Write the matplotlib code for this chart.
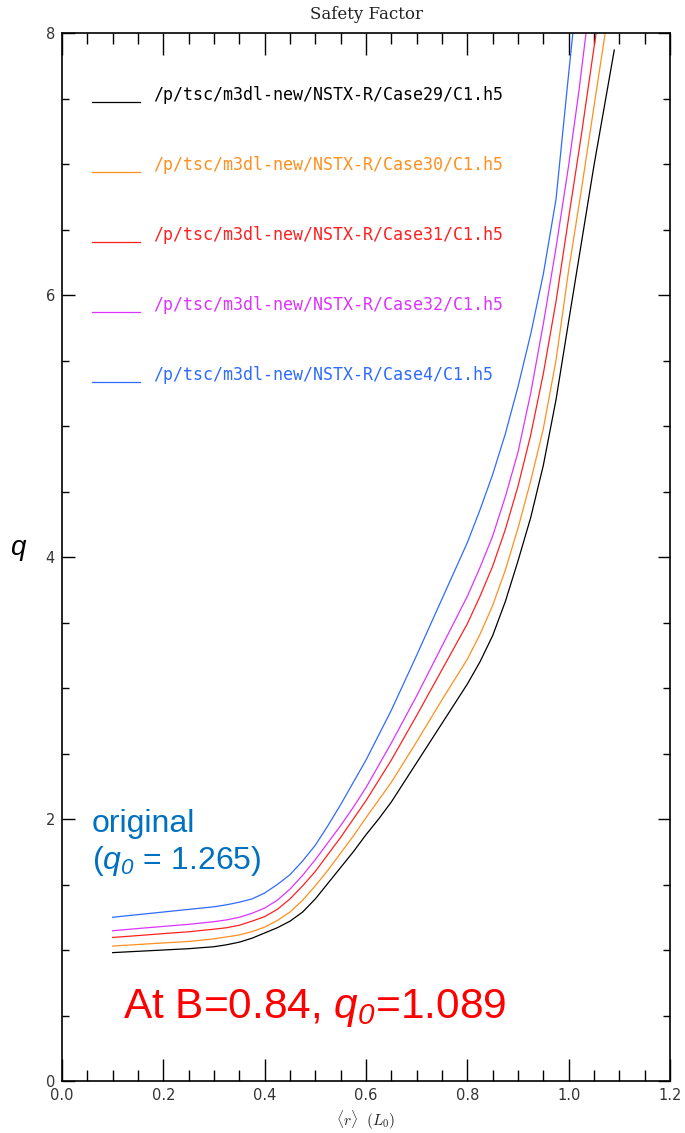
import matplotlib
matplotlib.use("Agg")
import matplotlib.pyplot as plt
from matplotlib.ticker import MultipleLocator

plt.rcParams['mathtext.fontset'] = 'custom'
plt.rcParams['mathtext.it'] = 'Liberation Sans:italic'
plt.rcParams['mathtext.rm'] = 'Liberation Sans'
plt.rcParams['mathtext.sf'] = 'Liberation Sans:italic'

# ---------------- data ----------------
labels = ["/p/tsc/m3dl-new/NSTX-R/Case29/C1.h5",
          "/p/tsc/m3dl-new/NSTX-R/Case30/C1.h5",
          "/p/tsc/m3dl-new/NSTX-R/Case31/C1.h5",
          "/p/tsc/m3dl-new/NSTX-R/Case32/C1.h5",
          "/p/tsc/m3dl-new/NSTX-R/Case4/C1.h5"]
colors = ["#000000", "#FF8F1F", "#FF2020", "#DD33FF", "#2F6BFF"]

r_case29 = [0.10, 0.15, 0.20, 0.25, 0.30, 0.325, 0.35, 0.375, 0.40, 0.425, 0.45,
            0.475, 0.50, 0.525, 0.55, 0.575, 0.60, 0.625, 0.65, 0.70, 0.75, 0.80,
            0.825, 0.85, 0.875, 0.90, 0.925, 0.95, 0.975, 1.00, 1.05, 1.09]
q_case29 = [0.98, 0.99, 1.00, 1.01, 1.025, 1.04, 1.06, 1.09, 1.13, 1.17, 1.22,
            1.29, 1.39, 1.51, 1.63, 1.75, 1.88, 2.00, 2.13, 2.43, 2.73, 3.03,
            3.20, 3.40, 3.66, 3.97, 4.30, 4.70, 5.20, 5.80, 6.99, 7.87]

r_case30 = [0.10, 0.15, 0.20, 0.25, 0.30, 0.325, 0.35, 0.375, 0.40, 0.425, 0.45,
            0.475, 0.50, 0.525, 0.55, 0.575, 0.60, 0.65, 0.70, 0.75, 0.80,
            0.825, 0.85, 0.875, 0.90, 0.925, 0.95, 0.975, 1.00, 1.025, 1.05, 1.08]
q_case30 = [1.03, 1.042, 1.054, 1.065, 1.085, 1.10, 1.115, 1.14, 1.175, 1.225, 1.29,
            1.38, 1.49, 1.61, 1.74, 1.87, 2.01, 2.28, 2.59, 2.91, 3.22,
            3.41, 3.63, 3.90, 4.22, 4.58, 4.98, 5.50, 6.19, 6.80, 7.44, 8.2]

r_case31 = [0.10, 0.15, 0.20, 0.25, 0.30, 0.325, 0.35, 0.375, 0.40, 0.425, 0.45,
            0.475, 0.50, 0.525, 0.55, 0.575, 0.60, 0.65, 0.70, 0.75, 0.80,
            0.825, 0.85, 0.875, 0.90, 0.925, 0.95, 0.975, 1.00, 1.025, 1.05, 1.06]
q_case31 = [1.096, 1.11, 1.125, 1.139, 1.159, 1.17, 1.189, 1.22, 1.255, 1.31, 1.39,
            1.49, 1.60, 1.73, 1.86, 2.00, 2.14, 2.45, 2.79, 3.14, 3.49,
            3.70, 3.93, 4.21, 4.54, 4.93, 5.40, 5.95, 6.59, 7.22, 7.89, 8.15]

r_case32 = [0.10, 0.15, 0.20, 0.25, 0.30, 0.325, 0.35, 0.375, 0.40, 0.425, 0.45,
            0.475, 0.50, 0.525, 0.55, 0.575, 0.60, 0.65, 0.70, 0.75, 0.80,
            0.825, 0.85, 0.875, 0.90, 0.925, 0.95, 0.975, 1.00, 1.02, 1.04]
q_case32 = [1.147, 1.164, 1.18, 1.196, 1.216, 1.23, 1.25, 1.28, 1.32, 1.38, 1.465,
            1.57, 1.69, 1.82, 1.95, 2.09, 2.24, 2.58, 2.94, 3.32, 3.70,
            3.92, 4.16, 4.46, 4.80, 5.25, 5.78, 6.36, 6.99, 7.55, 8.18]

r_case4 = [0.10, 0.15, 0.20, 0.25, 0.30, 0.325, 0.35, 0.375, 0.40, 0.425, 0.45,
           0.475, 0.50, 0.525, 0.55, 0.575, 0.60, 0.65, 0.70, 0.75, 0.80,
           0.825, 0.85, 0.875, 0.90, 0.925, 0.95, 0.975, 1.00, 1.015]
q_case4 = [1.25, 1.27, 1.29, 1.31, 1.33, 1.345, 1.365, 1.39, 1.435, 1.50, 1.575,
           1.68, 1.80, 1.95, 2.11, 2.28, 2.45, 2.83, 3.25, 3.68, 4.11,
           4.36, 4.63, 4.94, 5.30, 5.70, 6.16, 6.73, 7.69, 8.25]

series = [(r_case29, q_case29), (r_case30, q_case30), (r_case31, q_case31),
          (r_case32, q_case32), (r_case4, q_case4)]

xticks = [0.0, 0.2, 0.4, 0.6, 0.8, 1.0, 1.2]
xticklabels = ["0.0", "0.2", "0.4", "0.6", "0.8", "1.0", "1.2"]
yticks = [0, 2, 4, 6, 8]
yticklabels = ["0", "2", "4", "6", "8"]

# ---------------- figure ----------------
W, H = 685, 1133
fig = plt.figure(figsize=(W / 100, H / 100), dpi=100)
L, R, T, B = 62, 670, 33, 1081
ax = fig.add_axes([L / W, 1 - B / H, (R - L) / W, (B - T) / H])

for (r, q), c in zip(series, colors):
    ax.plot(r, q, color=c, lw=0.9, solid_joinstyle='round')

ax.set_xlim(0, 1.2)
ax.set_ylim(0, 8)

for s in ax.spines.values():
    s.set_linewidth(1.2)

ax.set_xticks(xticks)
ax.set_xticklabels(xticklabels)
ax.set_yticks(yticks)
ax.set_yticklabels(yticklabels)
ax.xaxis.set_minor_locator(MultipleLocator(0.05))
ax.yaxis.set_minor_locator(MultipleLocator(0.5))
ax.tick_params(axis='x', which='major', direction='in', length=15.8, width=1.0,
               top=True, bottom=True, labelsize=10.5, labelcolor='#333333', pad=5)
ax.tick_params(axis='x', which='minor', direction='in', length=8.2, width=1.0,
               top=True, bottom=True)
ax.tick_params(axis='y', which='major', direction='in', length=9.0, width=1.0,
               left=True, right=True, labelsize=10.5, labelcolor='#333333', pad=5)
ax.tick_params(axis='y', which='minor', direction='in', length=5.0, width=1.0,
               left=True, right=True)
for lab in ax.get_xticklabels() + ax.get_yticklabels():
    lab.set_fontfamily('DejaVu Sans')

# title / labels
ax.set_title("Safety Factor", fontsize=12, family='DejaVu Serif', pad=10,
             color='#222222')
fig.text((L + R) / 2 / W, 1 - 1120 / H, r'$\langle r\rangle\ \ (L_0)$',
         ha='center', va='center', fontsize=11, math_fontfamily='cm',
         color='#222222')
fig.text(18 / W, 1 - 548 / H, 'q', ha='center', va='center', fontsize=20,
         family='Liberation Sans', style='italic')

# legend drawn in IDL style
y0 = 1 - (101.7 - T) / (B - T)
dy = 70 / (B - T)
for i, (lab, c) in enumerate(zip(labels, colors)):
    yy = y0 - i * dy
    ax.plot([(92 - L) / (R - L), (140 - L) / (R - L)], [yy, yy], color=c,
            lw=0.9, transform=ax.transAxes)
    ax.text((153 - L) / (R - L), yy + 1.5 / (B - T), lab, color=c,
            transform=ax.transAxes, ha='left', va='baseline',
            fontsize=12, family='DejaVu Sans Mono')

# annotations
ax.text(0.059, 1.90, 'original', color='#0070C0', fontsize=23,
        family='Liberation Sans', ha='left', va='baseline')
ax.text(0.059, 1.62, r'($\mathsf{q}_{\mathsf{0}}$ = 1.265)', color='#0070C0',
        fontsize=23, family='Liberation Sans', ha='left', va='baseline')
ax.text(0.120, 0.48, r'At B=0.84, $\mathsf{q}_{\mathsf{0}}$=1.089', color='#FF0000',
        fontsize=30.5, family='Liberation Sans', ha='left', va='baseline')

fig.savefig('out.png', dpi=100)
